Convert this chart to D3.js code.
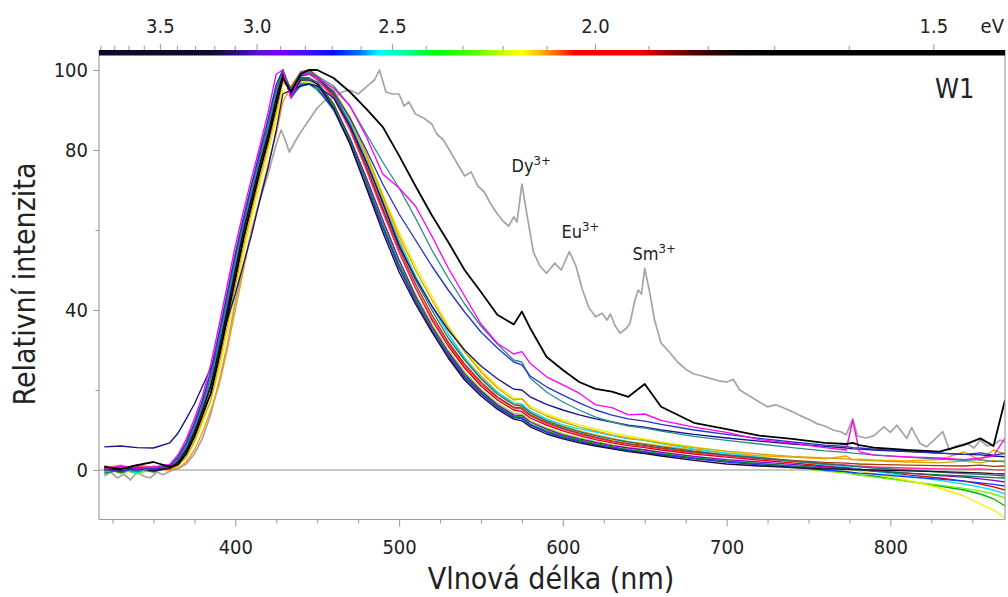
<!DOCTYPE html>
<html><head><meta charset="utf-8">
<script src="https://cdn.jsdelivr.net/npm/d3@7"></script>
<style>body{margin:0;background:#fff;} svg{display:block;}</style>
</head><body><svg id="c" width="1008" height="597"></svg>
<script>
// ---------------- DATA ----------------
const wavelengths = [320,330,340,350,360,365,370,375,380,385,
  390,395,400,405,410,415,420,425,429,434,
  440,445,450,460,470,480,490,500,510,520,
  530,540,550,560,570,575,580,590,600,610,
  620,630,640,650,660,680,700,720,740,760,
  773,777,781,790,810,830,845,855,863,870];

const sGreen = [0.5,-0.8,0.3,-0.5,1.1,3.2,6.8,11.7,17.4,24.6,
  34,44,54,63,71.4,79.5,87.6,96.3,100,93.5,
  96,96.5,95,90.5,82,72,61.5,51.5,43,35.5,
  29,23.5,19.5,16,13.5,13.2,11.5,9.8,8.5,7.5,
  6.6,5.8,5.1,4.6,4,3,2.2,1.5,0.8,0,
  -0.5,-0.8,-1.2,-1.5,-2.8,-4,-5,-6,-7.2,-9];
const sYellow = [-0.5,0.8,-0.3,0.2,0.1,1.1,3.2,6.8,11.7,17.4,
  24.6,34,44,54,63.2,71.4,79.5,87.6,95,93,
  98.5,99.5,98.5,95,88.5,79.5,69,59.5,51,43.5,
  36,30,25,21,18,17.8,16,14,12.5,11.3,
  10.3,9.3,8.5,7.8,7,5.8,4.6,3.4,2.2,1,
  0.3,0,-0.3,-1,-2.5,-4.5,-6.5,-8.5,-10,-12];
const sOrange = [0.8,0.2,1,0.3,0,0.5,2,5,9.5,15,
  21,30,40,50,60,68,76.5,84,92,96,
  99.5,100,98.5,94,87.5,78,67.5,57.5,48.5,41,
  34,28,23.5,19.5,16.5,16.2,14.5,12.5,11,9.8,
  8.8,7.9,7.1,6.6,6,5,4.2,3.6,3.2,2.8,
  3.5,2.6,2.7,2.5,2.3,2.6,4.5,2.4,5,4];
const sRed = [0,0.6,-0.4,0.5,0.5,2,5,9.5,15,21,
  30,40,50,60,68,76.5,84,93,99,94.5,
  99,99.5,98,93.5,85.5,75.5,65,54.5,45.5,37.5,
  31,25.5,21,17.5,15,14.6,13,11.2,9.8,8.6,
  7.6,6.8,6.1,5.6,5,4,3.2,2.5,1.8,1,
  0.5,0.3,0.2,-0.3,-1.2,-2,-2.8,-3.5,-4.2,-5];
const sCyan = [-1,0.5,-0.8,1,0.3,1.4,4.1,8.4,13.8,19.2,
  28.2,38,48,58,66.4,74.8,82.5,91.2,98.5,94,
  98.5,99,98,94.5,87,77.5,67,57,48.5,41,
  34,28,23,19.5,16.8,16.5,14.8,12.8,11.3,10.3,
  9.5,8.6,7.8,7.4,6.6,5.3,4.2,3.2,2.2,1.3,
  0.8,0.5,0.3,-0.3,-1.5,-2.6,-3.5,-4.3,-5,-6];
const sPurple = [0.4,-0.3,0.8,0,0.8,2.6,5.9,10.6,16.2,22.8,
  32,42,52,61.6,69.7,78,85.8,94.7,100,93.5,
  98,98,96.5,91.5,83,73,62.5,52.5,43.5,36,
  29.5,24,19.8,16.3,13.8,13.6,12,10.2,8.8,7.8,
  6.9,6.1,5.5,5,4.4,3.4,2.6,2,1.4,0.8,
  0.5,0.3,0.2,-0.2,-0.8,-1.4,-1.8,-2.2,-2.6,-3];
const sDarkPurple = [0.2,0,0.5,-0.2,0.5,2,5,9.5,15,21,
  30,40,50,60,68,76.5,84,93,99,93.5,
  97.5,97.5,96.5,90.5,81.5,70.5,59.5,49.5,41.5,34.5,
  28,22.5,18.5,15.2,12.7,12.3,10.8,9,7.8,6.8,
  6,5.3,4.6,4.1,3.5,2.4,1.5,1,0.6,0.3,
  0.2,0.1,0.1,0,-0.2,-0.4,-0.6,-0.7,-0.9,-1];
const sGold = [0.6,1.2,0.2,0.9,0.2,1.1,3.2,7.3,12.6,17.4,
  26.4,36,46,56,64.8,73.1,81,89.4,97,95,
  99,99.5,98.5,95,88,79,68.5,58.5,50,42.5,
  35.5,29.5,24.5,20.5,17.5,17.8,15.5,13.5,12,10.8,
  9.8,8.8,8,7.4,6.7,5.6,4.7,4,3.4,3,
  2.8,2.6,2.5,2.3,2,1.8,2.2,1.8,2.4,2];
const sPink = [1,0.3,1.3,0.6,0.8,2.6,5.9,10.6,16.2,22.8,
  32,42,52,61.6,69.7,78,85.8,94.7,100,95,
  99,99,97.5,93,85,75,64.5,54.5,45.5,38,
  31.5,26,21.5,18,15.5,15.2,13.5,11.6,10.2,9,
  8,7.1,6.4,5.9,5.3,4.3,3.5,2.8,2.2,1.6,
  1.3,1.1,1,0.8,0.5,0.3,0.2,0.3,0.1,0];
const sDarkGreen = [-0.3,0.4,-0.2,0.7,0.5,2,5,9.5,15,21,
  30,40,50,60,68,76.5,84,93,99,94,
  98,98,97,91.5,82.5,72,61,51,42.5,35,
  28.8,23.3,19.2,15.8,13.3,13,11.4,9.6,8.3,7.3,
  6.4,5.7,5,4.5,4,3,2.2,1.6,1,0.5,
  0.2,0.1,0,-0.3,-0.8,-1.2,-1.5,-1.7,-1.9,-2];
const sLime = [-0.6,0.2,-1,0.3,0.8,2.6,5.9,10.6,16.2,22.8,
  32,42,52,61.6,69.7,78,85.8,94.7,100,94,
  97,97,96,91,83,73,62.5,52.5,44,36.5,
  30,24.5,20.2,16.7,14.2,14,12.3,10.5,9.1,8,
  7.1,6.3,5.6,5.1,4.5,3.4,2.4,1.5,0.6,-0.3,
  -0.8,-1.1,-1.3,-1.8,-2.8,-3.8,-4.6,-5.3,-6,-7];
const sBrown = [0.3,-0.5,0.6,0.1,0.3,1.4,4.1,8.4,13.8,19.2,
  28.2,38,48,58,66.4,74.8,82.5,91.2,98.5,95.5,
  99.5,100,98.5,94,86,76,65.5,55.5,46.5,38.8,
  32,26.5,22,18.3,15.7,15.5,13.8,11.9,10.4,9.2,
  8.2,7.3,6.6,6.1,5.5,4.5,3.7,3,2.4,1.9,
  1.7,1.6,1.5,1.4,1.2,1.1,1,1.2,0.9,1];
const sBlue = [0.1,0.9,0,0.5,0.8,2.6,5.9,10.6,16.2,22.8,
  32,42,52,61.6,69.7,78,85.8,94.7,99.5,93,
  96.5,96.5,95.5,90,81.5,71,60.5,50.5,42,34.8,
  28.5,23,19,15.6,13.1,12.8,11.2,9.4,8.1,7.1,
  6.2,5.5,4.8,4.3,3.8,2.8,2,1.3,0.7,0,
  -0.4,-0.6,-0.8,-1,-1.7,-2.3,-2.8,-3.2,-3.6,-4];
const sDarkTeal = [-0.8,0,0.5,-0.4,0.5,2,5,9.5,15,21,
  30,40,50,60,68,76.5,84,93,99.5,95,
  99.5,99.5,98,94,86.5,77,66.5,56.5,47.5,40,
  33,27.5,22.8,19,16.3,16,14.3,12.3,10.8,9.6,
  8.6,7.7,7,6.4,5.8,4.7,3.8,3,2.2,1.5,
  1.1,0.9,0.8,0.5,0,-0.5,-0.9,-1.1,-1.3,-1.5];
const sNavy = [5.8,6,5.6,5.5,6.8,9.2,12.8,16.5,21,25.5,
  31,37.5,44,51.5,59,67.5,75.5,85,94,95,
  96,96.5,96,93,86,77,67,56,48,41,
  35,30,26,22.8,20.2,20,18.3,16.4,15,13.8,
  12.8,12,11.2,10.7,10,8.9,8,7.2,6.5,5.9,
  5.5,5.3,5.2,5,4.6,4.2,3.9,3.8,3.5,3.3];
const sRoyalBlue = [0.3,-0.4,0.6,0.2,1.1,3.2,6.8,11.7,17.4,24.6,
  34,44,54,63,71.4,79.5,87.6,96.3,100,94,
  98.5,99,98,94.5,88,80,71.5,64,57.5,51,
  45,39.5,34.5,30.5,27,26.3,23.5,20.8,18.7,16.8,
  15,13.7,12.8,12.2,11.4,10,8.9,7.9,7,6.2,
  5.9,5.6,5.5,5.2,4.7,4.2,3.9,4.3,3.7,4.2];
const sTeal = [0.9,0.2,-0.4,0.6,0.8,2.6,5.9,10.6,16.2,22.8,
  32,42,52,61.6,69.7,78,85.8,94.7,100,94.5,
  99.5,99.5,98.5,96,91,84,77,70.5,63,55,
  48,41.5,36,31.5,27.5,27,23,19.5,17,15,
  13.2,12,11,10.5,9.7,8.4,7.4,6.5,5.6,4.8,
  4.4,4.2,4.1,3.8,3.2,2.7,2.4,2.6,2.1,2.3];
const sMagenta = [0.2,1,0.4,0.8,1.4,3.8,7.7,12.8,18.6,26.4,
  36,46,56,64.8,73.1,81,89.4,99,100,93,
  99,99,98,95.5,91,83.3,74,70.5,66,58.5,
  50.5,43.5,36.5,31.7,29,29.6,26.7,23.3,21.3,19.2,
  16.3,15.6,13.8,14,12.4,10.7,9.4,7.6,6.7,5.6,
  5,12.5,4.6,3.7,3.3,3,2.6,3,3.5,8];
const sBlack = [0.8,0.2,1.2,2,0.8,1.4,4.1,8.4,13.8,19.2,
  28.2,38,48,58,66.4,74.8,82.5,91.2,98,94.5,
  99,100,100,98,94.5,90.3,85.8,78.6,71,63.7,
  57,50,44.5,38.8,36.4,39.6,35.5,28.3,25,22,
  20.3,19.6,18.3,21.5,15.8,11.8,10.2,8.6,7.8,6.8,
  6.5,6.8,6.2,5.6,5,4.6,6.3,7.9,6,17.5];

// reference sample (grey), [wavelength nm, intensity]
const grayReference = [[320,-1.5],[324,-0.5],[328,-2],[332,-1],[336,-2.5],[340,-0.5],[344,-1.5],[348,-2],[352,-0.5],[356,-1.2],
  [360,-0.3],[365,0.3],[370,1.5],[375,4],[380,8],[385,14],[390,22],[395,31],[400,42],[405,51],
  [410,60],[415,67.5],[420,74],[425,81.5],[428,85],[430,83],[433,79.5],[437,82.5],[440,84.5],[445,87.5],
  [450,90.5],[455,92.5],[460,93],[465,94.5],[470,95],[475,94],[480,95.8],[485,97.5],[488,100],[492,94.5],
  [496,94],[500,94],[503,91],[506,92],[510,89],[515,88],[520,86.5],[523,84],[527,82.5],[530,80.5],
  [535,77],[540,73.5],[544,74.5],[548,71],[552,69.5],[556,66.5],[560,64],[564,62],[567,61],[570,63.3],
  [572,62],[575,71.5],[578,64],[582,54.5],[586,51],[590,49.2],[595,51.7],[599,50],[604,54.6],[608,51],
  [612,45],[616,40.5],[620,38.3],[624,39.2],[627,37.5],[629,39],[632,36],[635,34.2],[639,35.5],[641,36.7],
  [644,42.5],[646,45],[648,44],[650,50.4],[653,44.5],[656,37.5],[660,31.7],[665,29.5],[670,27],[675,25.2],
  [680,24],[685,23.5],[690,22.9],[695,22.3],[700,22],[704,22.7],[708,20],[714,18.5],[720,17],[725,15.8],
  [730,16.3],[735,15.5],[740,14.6],[745,13.6],[750,12.7],[755,11.6],[760,11],[765,10],[770,9.5],[773,8.8],
  [777,12.8],[780,8.5],[785,8],[790,8.6],[796,10.8],[800,9.4],[804,11.2],[808,9],[810,7.9],[813,10.6],
  [818,6.7],[822,5.8],[826,7.2],[832,9.6],[836,5],[840,6],[847,6.7],[851,5.5],[855,7.5],[859,6],
  [863,6.3],[867,7.5],[870,7]];

const yTicksLabelled = [0, 40, 80, 100];
const yTicksMinor = [20, 60];
const xTicksMajor = [400, 500, 600, 700, 800];
const xTicksMinor = [325,350,375,425,450,475,525,550,575,625,650,675,725,750,775,825,850];
const eVTicks = [3.9,3.8,3.7,3.6,3.5,3.4,3.3,3.2,3.1,3.0,2.9,2.8,2.7,2.6,2.5,2.4,2.3,2.2,2.1,2.0,1.9,1.8,1.7,1.6,1.5];
const eVLabels = [3.5, 3.0, 2.5, 2.0, 1.5];
const barStopNm = [317,385,400,413,428,445,460,476,488,505,522,545,565,575,585,595,607,645,660,680,705,720,870];
const barStopColor = ["#0b0b26","#0d0b2e","#2b0f6e","#5a10d0","#7a00ff","#3a10ff","#0010ff","#0070ff","#00ffff","#00ff90","#00ff00","#50ff00","#d0ff00","#ffff00","#ffc000","#ff7000","#ff0000","#ff0000","#b00000","#500000","#100000","#000000","#000000"];
const ionLabels = [["Dy","3+",511.5,171.5],["Eu","3+",561.5,238],["Sm","3+",632.5,260]];

// ---------------- DRAW ----------------
const svg = d3.select("#c");
const L = 99, R = 1005, T = 50, B = 519.5;
const x = d3.scaleLinear().domain([316.75, 870]).range([L, R]);
const y = d3.scaleLinear().domain([0, 100]).range([470, 70]);
const FONT = "'DejaVu Sans Condensed','DejaVu Sans',sans-serif";
const textCol = "#222";
const axisCol = "#a0a0a0";

const defs = svg.append("defs");
defs.append("clipPath").attr("id","plotclip").append("rect")
  .attr("x",L).attr("y",T).attr("width",R-L).attr("height",B-T);
const grad = defs.append("linearGradient").attr("id","spec")
  .attr("gradientUnits","userSpaceOnUse").attr("x1",L).attr("x2",R).attr("y1",0).attr("y2",0);
barStopNm.forEach((nm,i)=>{
  grad.append("stop").attr("offset", Math.max(0,Math.min(1,(x(nm)-L)/(R-L)))).attr("stop-color", barStopColor[i]);
});

// zero line
svg.append("line").attr("x1",L).attr("x2",R).attr("y1",y(0)).attr("y2",y(0))
  .attr("stroke","#909090").attr("stroke-width",1);

const series = [
  {v:sGreen,c:"#00b400"},{v:sLime,c:"#7cf000"},{v:sYellow,c:"#f0f000"},{v:sOrange,c:"#ff9a00"},
  {v:sRed,c:"#e00000"},{v:sCyan,c:"#00e5ee"},{v:sPurple,c:"#8a00d4"},{v:sGold,c:"#d2a800"},
  {v:sPink,c:"#ff2a8a"},{v:sDarkGreen,c:"#007a3a"},{v:sBrown,c:"#a03c00"},{v:sBlue,c:"#1838ff"},
  {v:sDarkTeal,c:"#2c6e6e"},{v:sDarkPurple,c:"#2a0030"},
  {v:sNavy,c:"#15158a"},{v:sTeal,c:"#2a8c8c"},{v:sRoyalBlue,c:"#2535c8"},
  {v:sMagenta,c:"#ff00ff"},{v:sBlack,c:"#000000",w:1.8}
];
const line = d3.line().x(d=>x(d[0])).y(d=>y(d[1]));
const g = svg.append("g").attr("clip-path","url(#plotclip)");
g.append("path").attr("d", line(grayReference)).attr("fill","none")
  .attr("stroke","#a4a4a4").attr("stroke-width",1.7).attr("stroke-linejoin","round");
series.forEach(s=>{
  const pts = wavelengths.map((w,i)=>[w, s.v[i]]).filter(p=>p[1]!==undefined);
  g.append("path").attr("d", line(pts)).attr("fill","none")
    .attr("stroke", s.c).attr("stroke-width", s.w||1.35).attr("stroke-linejoin","round");
});

// frame lines
svg.append("line").attr("x1",L).attr("x2",L).attr("y1",T).attr("y2",B).attr("stroke",axisCol).attr("stroke-width",1.2);
svg.append("line").attr("x1",R).attr("x2",R).attr("y1",T).attr("y2",B).attr("stroke",axisCol).attr("stroke-width",1.2);
svg.append("line").attr("x1",L).attr("x2",R).attr("y1",B).attr("y2",B).attr("stroke",axisCol).attr("stroke-width",1.2);

// colour bar
svg.append("rect").attr("x",L).attr("y",T).attr("width",R-L).attr("height",5.5).attr("fill","url(#spec)");

// left axis
const yAx = svg.append("g").attr("transform",`translate(${L},0)`)
  .call(d3.axisLeft(y).tickValues(yTicksLabelled).tickSize(6).tickPadding(5));
const yAxMinor = svg.append("g").attr("transform",`translate(${L},0)`)
  .call(d3.axisLeft(y).tickValues(yTicksMinor).tickSize(3.5).tickFormat(""));
// bottom axis
const xAx = svg.append("g").attr("transform",`translate(0,${B})`)
  .call(d3.axisBottom(x).tickValues(xTicksMajor).tickSize(7).tickPadding(13));
const xAxMinor = svg.append("g").attr("transform",`translate(0,${B})`)
  .call(d3.axisBottom(x).tickValues(xTicksMinor).tickSize(4).tickFormat(""));
[yAx,yAxMinor,xAx,xAxMinor].forEach(a=>{
  a.select(".domain").remove();
  a.selectAll(".tick line").attr("stroke",axisCol).attr("stroke-width",1.1);
  a.selectAll("text").attr("fill",textCol).attr("font-family",FONT);
});
yAx.selectAll("text").attr("font-size",20);
xAx.selectAll("text").attr("font-size",20);

// top eV axis
const topG = svg.append("g");
topG.selectAll("line.ev").data(eVTicks).join("line")
  .attr("x1",d=>x(1239.84/d)).attr("x2",d=>x(1239.84/d))
  .attr("y1",T).attr("y2",d=>eVLabels.some(v=>Math.abs(v-d)<1e-6)?T-6:T-4)
  .attr("stroke",axisCol).attr("stroke-width",1.1);
topG.selectAll("text.ev").data(eVLabels).join("text")
  .attr("x",d=>x(1239.84/d)).attr("y",33).attr("text-anchor","middle")
  .attr("font-family",FONT).attr("font-size",20).attr("fill",textCol)
  .text(d=>d.toFixed(1));
topG.append("text").attr("x",1004).attr("y",33).attr("text-anchor","end")
  .attr("font-family",FONT).attr("font-size",20).attr("fill",textCol).text("eV");

// titles
svg.append("text").attr("x",551).attr("y",589).attr("text-anchor","middle")
  .attr("font-family",FONT).attr("font-size",30).attr("fill",textCol).text("Vlnová délka (nm)");
svg.append("text").attr("transform","translate(35,284) rotate(-90)").attr("text-anchor","middle")
  .attr("font-family",FONT).attr("font-size",30).attr("fill",textCol).text("Relativní intenzita");
svg.append("text").attr("x",935).attr("y",98).attr("font-family",FONT).attr("font-size",27)
  .attr("fill",textCol).text("W1");

// ion annotations
ionLabels.forEach(([el,ch,px,py])=>{
  const t = svg.append("text").attr("x",px).attr("y",py).attr("font-family",FONT)
    .attr("font-size",18).attr("fill",textCol);
  t.append("tspan").text(el);
  t.append("tspan").attr("dy",-7).attr("font-size",13).text(ch);
});
</script>
</body></html>
